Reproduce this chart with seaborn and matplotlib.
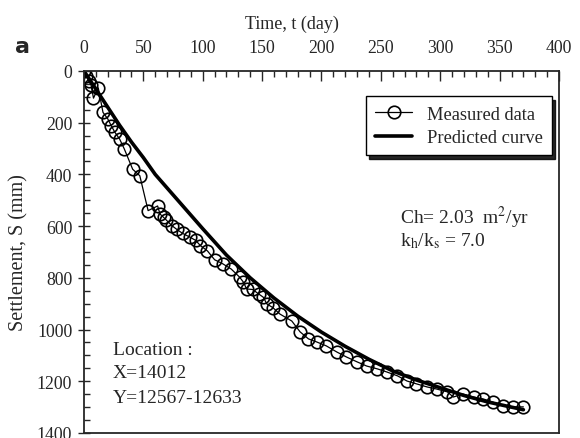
import numpy as np
import pandas as pd
import seaborn as sns
import matplotlib.pyplot as plt
from matplotlib.ticker import MultipleLocator

# measured settlement
t_meas = [0, 2, 4, 6, 8, 12, 16, 20, 23, 26, 30, 34, 41, 47, 54, 62, 64, 67, 69,
          74, 78, 83, 89, 94, 98, 104, 110, 117, 124, 131, 134, 137, 142, 147,
          151, 154, 159, 165, 175, 182, 189, 196, 204, 213, 221, 230, 238, 247,
          255, 264, 272, 280, 289, 297, 306, 311, 319, 328, 336, 344, 353, 361, 370]
s_meas = [0, 20, 40, 55, 105, 65, 160, 185, 212, 237, 263, 302, 380, 405, 540,
          522, 553, 566, 575, 598, 612, 628, 642, 655, 675, 696, 730, 746, 766,
          797, 815, 843, 845, 862, 875, 901, 915, 940, 967, 1009, 1036, 1048,
          1063, 1087, 1106, 1125, 1141, 1152, 1164, 1179, 1199, 1210, 1222, 1230,
          1241, 1261, 1249, 1261, 1268, 1280, 1295, 1299, 1299]

# predicted curve
t_pred = [0, 10, 20, 30, 40, 50, 60, 80, 100, 120, 140, 160, 180, 200, 220,
          240, 260, 280, 300, 320, 340, 370]
s_pred = [0, 70, 140, 210, 275, 335, 400, 505, 610, 712, 800, 878, 948, 1010,
          1065, 1115, 1160, 1195, 1225, 1255, 1280, 1310]

sns.set_style("ticks")
plt.rcParams['font.family'] = ['Liberation Serif', 'DejaVu Serif']
plt.rcParams['mathtext.fontset'] = 'stix'

fig = plt.figure(figsize=(5.8, 4.39), dpi=100)
ax = fig.add_axes([0.1448, 0.0114, 0.819, 0.8246])

meas = pd.DataFrame({'t': t_meas, 'S': s_meas})
pred = pd.DataFrame({'t': t_pred, 'S': s_pred})

sns.lineplot(data=meas, x='t', y='S', ax=ax, sort=False, estimator=None,
             color='black', lw=0.9, marker='o', markersize=9,
             markerfacecolor='none', markeredgecolor='black', markeredgewidth=1.2,
             label='Measured data')
sns.lineplot(data=pred, x='t', y='S', ax=ax, color='black', lw=2.6,
             label='Predicted curve')

ax.set_xlim(0, 400)
ax.set_ylim(1400, 0)
ax.xaxis.tick_top()
ax.xaxis.set_label_position('top')
ax.xaxis.set_major_locator(MultipleLocator(50))
ax.xaxis.set_minor_locator(MultipleLocator(10))
ax.yaxis.set_major_locator(MultipleLocator(200))
ax.yaxis.set_minor_locator(MultipleLocator(50))
ax.tick_params(axis='x', which='major', direction='in', length=7, width=1,
               labelsize=12.8, pad=11)
ax.tick_params(axis='x', which='minor', direction='in', length=4, width=1)
ax.tick_params(axis='y', which='major', direction='inout', length=9, width=1,
               labelsize=12.8, pad=4)
ax.tick_params(axis='y', which='minor', direction='in', length=4, width=1)
for sp in ax.spines.values():
    sp.set_visible(True)
    sp.set_linewidth(1.3)

ax.set_xlabel('Time, t (day)', fontsize=13)
ax.xaxis.set_label_coords(0.438, 1.12)
ax.set_ylabel('Settlement, S (mm)', fontsize=14.5)
ax.yaxis.set_label_coords(-0.117, 0.5)

leg = ax.legend(loc='upper right', bbox_to_anchor=(0.985, 0.93), fontsize=13.3,
                frameon=True, fancybox=False,
                shadow={'ox': 2.5, 'oy': -2.5, 'color': 'black', 'alpha': 0.85},
                handlelength=2.0, borderpad=0.5, labelspacing=0.35,
                borderaxespad=0)
leg.get_frame().set_edgecolor('black')
leg.get_frame().set_linewidth(1.0)

ax.text(0.665, 0.597, r'Ch= 2.03  m$^2$/yr', transform=ax.transAxes,
        fontsize=14, va='center')
ax.text(0.665, 0.533, r'k$_\mathrm{h}$/k$_\mathrm{s}$ = 7.0', transform=ax.transAxes,
        fontsize=14, va='center')
ax.text(0.061, 0.232, 'Location :', transform=ax.transAxes, fontsize=14, va='center')
ax.text(0.061, 0.166, 'X=14012', transform=ax.transAxes, fontsize=14, va='center')
ax.text(0.061, 0.099, 'Y=12567-12633', transform=ax.transAxes, fontsize=14, va='center')

fig.text(0.026, 0.893, 'a', fontsize=16, fontweight='bold', family='DejaVu Sans',
         va='center')

fig.savefig('out.png', dpi=100)
